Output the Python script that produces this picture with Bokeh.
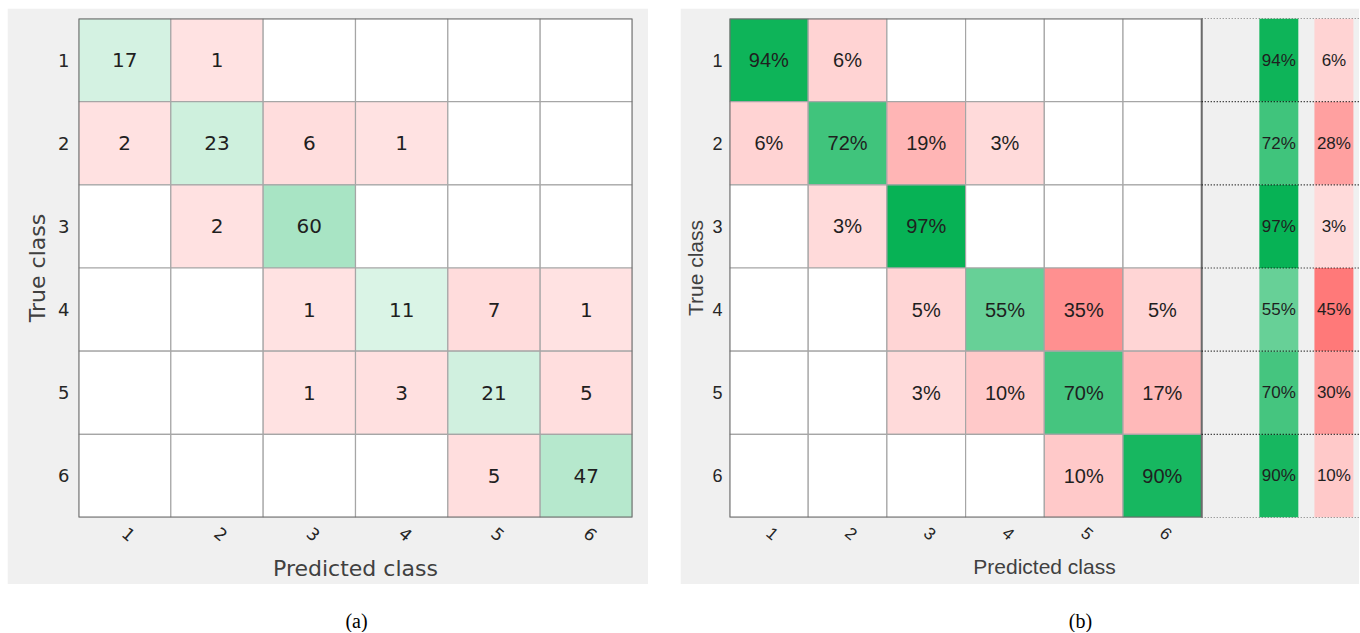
from bokeh.plotting import figure
from bokeh.models import Range1d, FixedTicker, ColumnDataSource, Spacer
from bokeh.layouts import row, column
from bokeh.embed import file_html
from bokeh.resources import INLINE
from bokeh.core.properties import value

# ---------------- data ----------------
classes = ["1", "2", "3", "4", "5", "6"]
counts = [
    [17, 1, 0, 0, 0, 0],
    [2, 23, 6, 1, 0, 0],
    [0, 2, 60, 0, 0, 0],
    [0, 0, 1, 11, 7, 1],
    [0, 0, 1, 3, 21, 5],
    [0, 0, 0, 0, 5, 47],
]
percents = [
    [94, 6, 0, 0, 0, 0],
    [6, 72, 19, 3, 0, 0],
    [0, 3, 97, 0, 0, 0],
    [0, 0, 5, 55, 35, 5],
    [0, 0, 3, 10, 70, 17],
    [0, 0, 0, 0, 10, 90],
]
row_correct = [94, 72, 97, 55, 70, 90]
row_incorrect = [6, 28, 3, 45, 30, 10]
x_title = "Predicted class"
y_title = "True class"
captions = ["(a)", "(b)"]

# ---------------- styles ----------------
GREEN = (0, 176, 80)
RED = (255, 0, 0)
PANEL = "#f0f0f0"
GRID = "#a6a6a6"
BORDER = "#6b6b6b"
TXT = "#1f1f1f"
LAB = "#404040"


def blend(base, a):
    return "#%02x%02x%02x" % tuple(int(round(255 * (1 - a) + c * a)) for c in base)


n = len(classes)
vmax = max(max(r) for r in counts)


def color_a(i, j, v):
    if v == 0:
        return "#ffffff"
    if i == j:
        return blend(GREEN, 0.10 + 0.24 * v / vmax)
    return blend(RED, 0.11 + 0.24 * v / vmax)


def color_b(is_diag, p):
    if p == 0:
        return "#ffffff"
    if is_diag:
        return blend(GREEN, 0.10 + 0.90 * p / 100.0)
    return blend(RED, 0.12 + 0.90 * p / 100.0)


def style_axes(p, font, label_size, y_tick_standoff, y_label_standoff):
    ticks = list(range(1, n + 1))
    over = {t: c for t, c in zip(ticks, classes)}
    for ax in (p.xaxis[0], p.yaxis[0]):
        ax.ticker = FixedTicker(ticks=ticks)
        ax.major_label_overrides = over
        ax.axis_line_color = None
        ax.major_tick_line_color = None
        ax.minor_tick_line_color = None
        ax.major_tick_out = 0
        ax.major_tick_in = 0
        ax.major_label_text_font = font
        ax.major_label_text_color = "#262626"
        ax.axis_label_text_font = font
        ax.axis_label_text_font_style = "normal"
        ax.axis_label_text_font_size = label_size
        ax.axis_label_text_color = LAB
    p.xaxis.major_label_text_font_size = "17px"
    p.yaxis.major_label_text_font_size = "18px"
    p.xaxis.major_label_orientation = -0.7
    p.xaxis.major_label_standoff = 13
    p.xaxis.axis_label = x_title
    p.xaxis.axis_label_standoff = 6
    p.yaxis.major_label_standoff = y_tick_standoff
    p.yaxis.axis_label = y_title
    p.yaxis.axis_label_standoff = y_label_standoff
    p.xgrid.visible = False
    p.ygrid.visible = False


# ---------------- panel (a) ----------------
xa, ya, ca, la = [], [], [], []
for i in range(n):
    for j in range(n):
        v = counts[i][j]
        xa.append(j + 1)
        ya.append(i + 1)
        ca.append(color_a(i, j, v))
        la.append(str(v) if v else "")
src_a = ColumnDataSource(dict(x=xa, y=ya, color=ca, label=la))

p1 = figure(width=641, height=576, x_range=Range1d(0.5, n + 0.5), y_range=Range1d(n + 0.5, 0.5),
            output_backend="svg", toolbar_location=None,
            min_border_left=71, min_border_right=16, min_border_top=10, min_border_bottom=65,
            background_fill_color="white", border_fill_color=PANEL, outline_line_color=None)
p1.rect(x="x", y="y", width=1, height=1, source=src_a, fill_color="color",
        line_color=GRID, line_width=1.2)
p1.rect(x=[(n + 1) / 2], y=[(n + 1) / 2], width=n, height=n, fill_color=None,
        line_color=BORDER, line_width=2)
p1.text(x="x", y="y", text="label", source=src_a, text_align="center", text_baseline="middle",
        text_font=value("DejaVu Sans"), text_font_size="20px", text_color=TXT)
style_axes(p1, "DejaVu Sans", "22px", 9, 5)

# ---------------- panel (b) ----------------
X_RIGHT = 8.505
COL_OK = 7.48
COL_BAD = 8.18
COL_W = 0.495

xb, yb, cb, lb = [], [], [], []
for i in range(n):
    for j in range(n):
        pc = percents[i][j]
        xb.append(j + 1)
        yb.append(i + 1)
        cb.append(color_b(i == j, pc))
        lb.append("%d%%" % pc if pc else "")
src_b = ColumnDataSource(dict(x=xb, y=yb, color=cb, label=lb))

rows_y = list(range(1, n + 1))
src_ok = ColumnDataSource(dict(y=rows_y, color=[color_b(True, v) for v in row_correct],
                               label=["%d%%" % v for v in row_correct]))
src_bad = ColumnDataSource(dict(y=rows_y, color=[color_b(False, v) for v in row_incorrect],
                                label=["%d%%" % v for v in row_incorrect]))

p2 = figure(width=679, height=576, x_range=Range1d(0.5, X_RIGHT), y_range=Range1d(n + 0.5, 0.5),
            output_backend="svg", toolbar_location=None,
            min_border_left=49, min_border_right=0, min_border_top=10, min_border_bottom=65,
            background_fill_color=PANEL, border_fill_color=PANEL, outline_line_color=None)
p2.rect(x="x", y="y", width=1, height=1, source=src_b, fill_color="color",
        line_color=GRID, line_width=1.2)
p2.rect(x=[(n + 1) / 2], y=[(n + 1) / 2], width=n, height=n, fill_color=None,
        line_color=BORDER, line_width=2)
p2.text(x="x", y="y", text="label", source=src_b, text_align="center", text_baseline="middle",
        text_font=value("Liberation Sans"), text_font_size="20px", text_color=TXT)

p2.rect(x=COL_OK, y="y", width=COL_W, height=1, source=src_ok, fill_color="color", line_color=None)
p2.rect(x=COL_BAD, y="y", width=COL_W, height=1, source=src_bad, fill_color="color", line_color=None)
p2.text(x=COL_OK, y="y", text="label", source=src_ok, text_align="center", text_baseline="middle",
        text_font=value("Liberation Sans"), text_font_size="17px", text_color=TXT)
p2.text(x=COL_BAD, y="y", text="label", source=src_bad, text_align="center", text_baseline="middle",
        text_font=value("Liberation Sans"), text_font_size="17px", text_color=TXT)

bounds = [k + 0.5 for k in range(n + 1)]
p2.segment(x0=[n + 0.5] * len(bounds), x1=[X_RIGHT] * len(bounds), y0=bounds, y1=bounds,
           line_color="#000000", line_width=1.2, line_dash="1 2")
style_axes(p2, "Liberation Sans", "21px", 7, 2)

# ---------------- captions ----------------
p3 = figure(width=1359, height=48, x_range=Range1d(0, 1359), y_range=Range1d(0, 48),
            output_backend="svg", toolbar_location=None, x_axis_type=None, y_axis_type=None,
            min_border=0, outline_line_color=None, background_fill_color="white",
            border_fill_color="white")
p3.xgrid.visible = False
p3.ygrid.visible = False
p3.text(x=[356, 1080], y=[12, 12], text=captions, text_align="center", text_baseline="middle",
        text_font=value("Liberation Serif"), text_font_size="20px", text_color="#000000")

layout = column(Spacer(width=1359, height=8),
                row(Spacer(width=7, height=576), p1, Spacer(width=32, height=576), p2),
                p3, spacing=0)
open("out.html", "w").write(file_html(layout, INLINE))
